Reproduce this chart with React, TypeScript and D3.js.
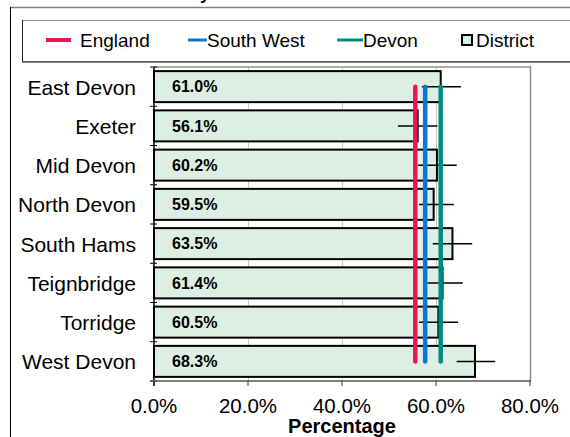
import { useEffect, useRef } from 'react';
import * as d3 from 'd3';

const districts = ['East Devon', 'Exeter', 'Mid Devon', 'North Devon', 'South Hams', 'Teignbridge', 'Torridge', 'West Devon'];
const values = [61.0, 56.1, 60.2, 59.5, 63.5, 61.4, 60.5, 68.3];
const lowerCI = [57.0, 51.9, 56.2, 56.4, 59.3, 58.2, 56.4, 64.4];
const upperCI = [65.3, 60.3, 64.4, 63.8, 67.7, 65.7, 64.7, 72.6];

const referenceNames = ['England', 'South West', 'Devon'];
const referenceValues = [55.6, 57.7, 61.0];
const referenceColors = ['#e8174f', '#0a78d0', '#008a84'];

const xTicks = [0, 20, 40, 60, 80];

const App = () => {
  const svgRef = useRef<SVGSVGElement>(null);

  useEffect(() => {
    if (!svgRef.current) return;
    const svg = d3.select(svgRef.current);
    svg.selectAll('*').remove();

    const W = 570;
    const H = 437;
    const font = 'Liberation Sans, Arial, sans-serif';
    const plot = { left: 154, right: 530, top: 67, bottom: 381 };

    svg.attr('width', W).attr('height', H).style('font-family', font);

    svg.append('rect').attr('width', W).attr('height', H).attr('fill', '#fff');

    // title sits mostly above the visible page, as in the original
    svg.append('text')
      .attr('x', 135)
      .attr('y', -1)
      .attr('font-size', 18)
      .attr('font-weight', 'bold')
      .text('Rates by District');

    // outer frame
    svg.append('line').attr('x1', 10).attr('x2', W).attr('y1', 7.5).attr('y2', 7.5)
      .attr('stroke', '#808080').attr('stroke-width', 1.5);
    svg.append('line').attr('x1', 10.5).attr('x2', 10.5).attr('y1', 7).attr('y2', H)
      .attr('stroke', '#000').attr('stroke-width', 1);

    // legend box
    svg.append('rect').attr('x', 22.5).attr('y', 20.5).attr('width', W).attr('height', 41)
      .attr('fill', '#fff').attr('stroke', '#909090').attr('stroke-width', 1);
    svg.append('line').attr('x1', 22.5).attr('x2', 22.5).attr('y1', 20).attr('y2', 62)
      .attr('stroke', '#222');
    svg.append('line').attr('x1', 22).attr('x2', W).attr('y1', 62).attr('y2', 62)
      .attr('stroke', '#555').attr('stroke-width', 1.5);

    const x = d3.scaleLinear().domain([0, 80]).range([plot.left, plot.right]);
    const y = d3.scaleBand<string>()
      .domain(districts)
      .range([plot.top, plot.bottom])
      .paddingInner(0.21)
      .paddingOuter(0.105);
    const step = y.step();
    const center = (d: string) => (y(d) ?? 0) + y.bandwidth() / 2;

    // grid lines
    svg.append('g')
      .selectAll('line')
      .data(xTicks.slice(1, -1))
      .join('line')
      .attr('x1', d => x(d) + 0.5)
      .attr('x2', d => x(d) + 0.5)
      .attr('y1', plot.top)
      .attr('y2', plot.bottom)
      .attr('stroke', '#c8c8c8')
      .attr('stroke-width', 1);

    // plot frame top / right
    svg.append('line').attr('x1', plot.left).attr('x2', plot.right + 1).attr('y1', plot.top).attr('y2', plot.top)
      .attr('stroke', '#909090').attr('stroke-width', 1.5);
    svg.append('line').attr('x1', plot.right + 0.5).attr('x2', plot.right + 0.5).attr('y1', plot.top).attr('y2', plot.bottom)
      .attr('stroke', '#909090').attr('stroke-width', 1.5);

    // bars
    svg.append('g')
      .selectAll('rect')
      .data(districts)
      .join('rect')
      .attr('x', x(0))
      .attr('y', d => y(d) ?? 0)
      .attr('width', (_, i) => x(values[i]) - x(0))
      .attr('height', y.bandwidth())
      .attr('fill', '#dcefe2')
      .attr('stroke', '#000')
      .attr('stroke-width', 2);

    // value labels
    svg.append('g')
      .selectAll('text')
      .data(districts)
      .join('text')
      .attr('x', x(0) + 18)
      .attr('y', d => center(d))
      .attr('dy', '0.36em')
      .attr('font-size', 16)
      .attr('font-weight', 'bold')
      .text((_, i) => values[i].toFixed(1) + '%');

    // error bars
    svg.append('g')
      .selectAll('line')
      .data(districts)
      .join('line')
      .attr('x1', (_, i) => x(lowerCI[i]))
      .attr('x2', (_, i) => x(upperCI[i]))
      .attr('y1', d => center(d))
      .attr('y2', d => center(d))
      .attr('stroke', '#000')
      .attr('stroke-width', 1.5);

    // reference lines
    const firstC = center(districts[0]);
    const lastC = center(districts[districts.length - 1]);
    svg.append('g')
      .selectAll('line')
      .data(referenceValues)
      .join('line')
      .attr('x1', d => x(d))
      .attr('x2', d => x(d))
      .attr('y1', firstC)
      .attr('y2', lastC)
      .attr('stroke', (_, i) => referenceColors[i])
      .attr('stroke-width', 4.5)
      .attr('stroke-linecap', 'round');

    // y axis
    svg.append('line').attr('x1', plot.left).attr('x2', plot.left).attr('y1', plot.top).attr('y2', plot.bottom + 5)
      .attr('stroke', '#000').attr('stroke-width', 1.5);
    svg.append('g')
      .selectAll('line')
      .data(d3.range(districts.length + 1))
      .join('line')
      .attr('x1', plot.left - 4)
      .attr('x2', plot.left + 3)
      .attr('y1', i => plot.top + i * step)
      .attr('y2', i => plot.top + i * step)
      .attr('stroke', '#000');
    svg.append('g')
      .selectAll('text')
      .data(districts)
      .join('text')
      .attr('x', plot.left - 18)
      .attr('y', d => center(d))
      .attr('dy', '0.38em')
      .attr('text-anchor', 'end')
      .attr('font-size', 21)
      .text(d => d);

    // x axis
    svg.append('line').attr('x1', plot.left - 4).attr('x2', plot.right + 1).attr('y1', plot.bottom).attr('y2', plot.bottom)
      .attr('stroke', '#555').attr('stroke-width', 1.5);
    svg.append('g')
      .selectAll('line')
      .data(xTicks)
      .join('line')
      .attr('x1', d => x(d))
      .attr('x2', d => x(d))
      .attr('y1', plot.bottom)
      .attr('y2', plot.bottom + 5)
      .attr('stroke', '#333');
    svg.append('g')
      .selectAll('text')
      .data(xTicks)
      .join('text')
      .attr('x', d => x(d))
      .attr('y', 413)
      .attr('text-anchor', 'middle')
      .attr('font-size', 20.5)
      .text(d => d.toFixed(1) + '%');

    svg.append('text')
      .attr('x', 342)
      .attr('y', 433)
      .attr('text-anchor', 'middle')
      .attr('font-size', 20)
      .attr('font-weight', 'bold')
      .text('Percentage');

    // legend
    const legendY = 40;
    const lineItems = [
      { x1: 46, x2: 71, tx: 80, w: 4 },
      { x1: 188, x2: 207, tx: 207, w: 3 },
      { x1: 337, x2: 363, tx: 363, w: 3 },
    ];
    const lg = svg.append('g');
    lineItems.forEach((it, i) => {
      lg.append('line')
        .attr('x1', it.x1).attr('x2', it.x2)
        .attr('y1', legendY).attr('y2', legendY)
        .attr('stroke', referenceColors[i])
        .attr('stroke-width', it.w);
      lg.append('text')
        .attr('x', it.tx)
        .attr('y', legendY)
        .attr('dy', '0.36em')
        .attr('font-size', 19)
        .text(referenceNames[i]);
    });
    lg.append('rect')
      .attr('x', 462).attr('y', 35).attr('width', 10).attr('height', 10)
      .attr('fill', '#dcefe2').attr('stroke', '#000').attr('stroke-width', 2);
    lg.append('text')
      .attr('x', 476)
      .attr('y', legendY)
      .attr('dy', '0.36em')
      .attr('font-size', 19)
      .text('District');
  }, []);

  return <svg ref={svgRef} style={{ position: 'absolute', left: 0, top: 0, display: 'block' }} />;
};

export default App;
